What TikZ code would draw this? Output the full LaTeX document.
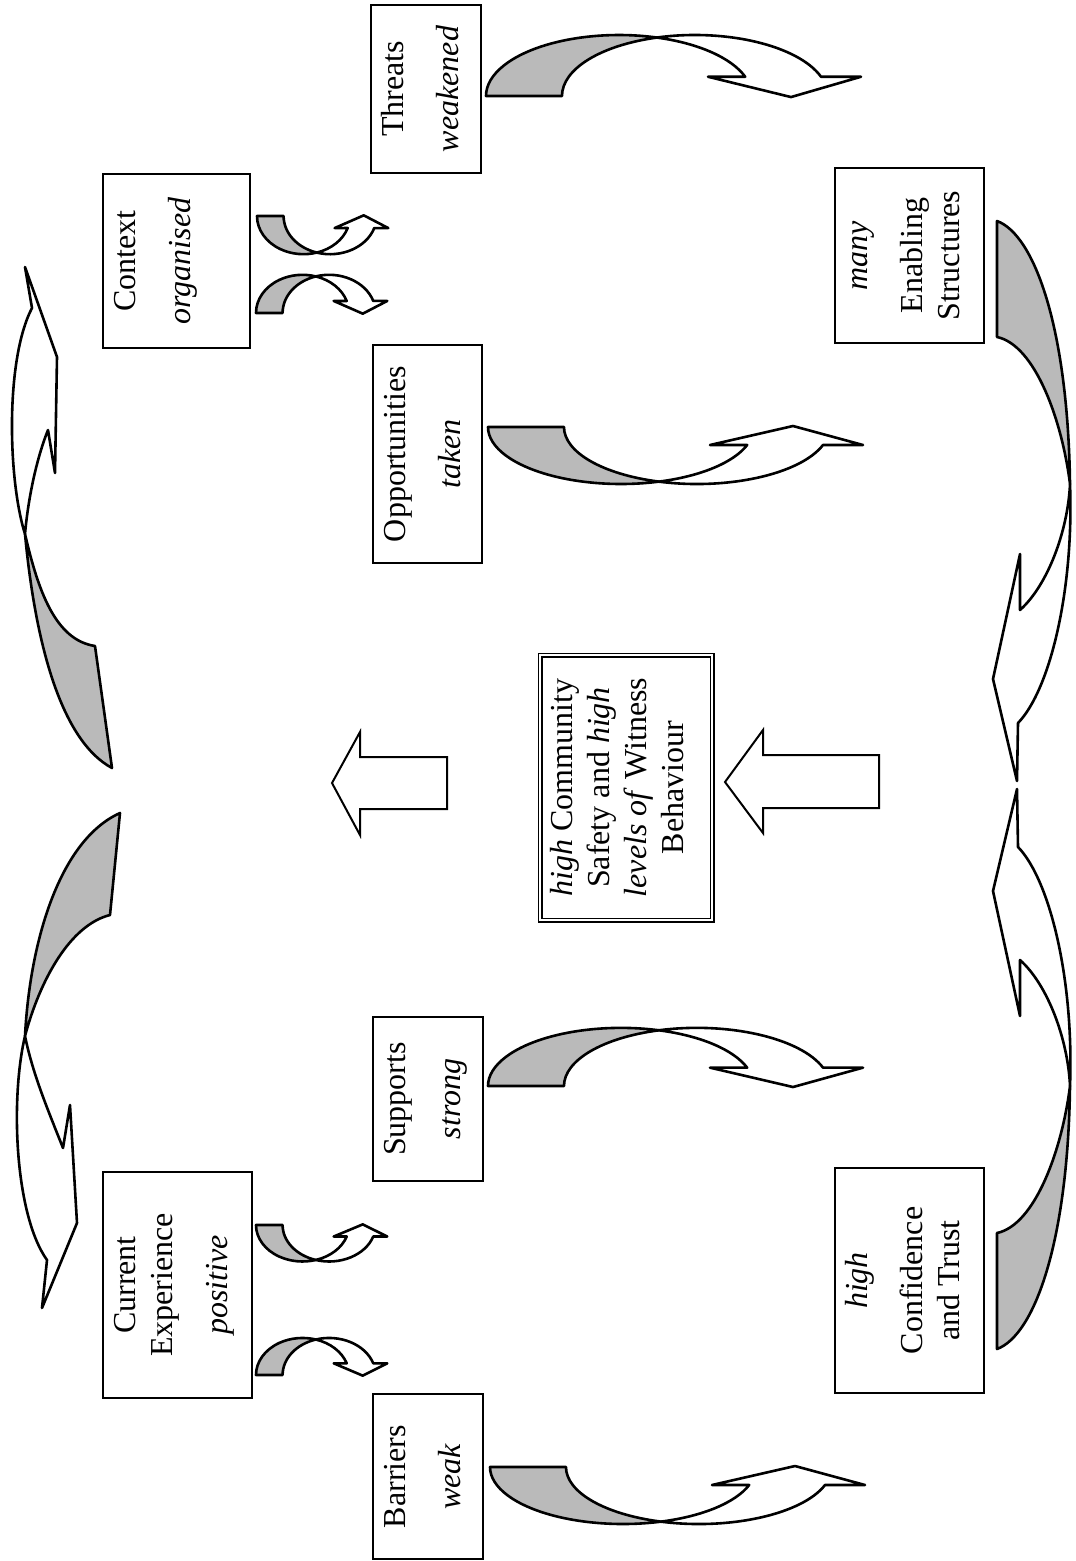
\documentclass[tikz,border=0pt]{standalone}
\usepackage{fontspec}
\setmainfont{Liberation Serif}
\begin{document}
\begin{tikzpicture}[x=1pt, y=-1pt]
    \tikzstyle{card}=[draw=black, line width=2pt, rotate=90, inner sep=0pt, font=\fontsize{32}{37}\selectfont]
    \tikzstyle{outline}=[draw=black, line width=2.6pt, line join=round]
    \tikzstyle{backside}=[outline, fill=black!27]
    \tikzstyle{blockarrow}=[draw=black, line width=2pt, fill=white]
    \tikzset{bentarrow/.pic={
        \path[backside] (0,0) arc[start angle=180, end angle=73.4, x radius=133, y radius=57]
            arc[start angle=106.6, end angle=180, x radius=133, y radius=57] -- cycle;
        \path[outline, fill=white] (171,54.6) arc[start angle=73.4, end angle=18.4, x radius=133, y radius=57]
            -- (222,18) -- (305,-1) -- (375,18) -- (335,18)
            arc[start angle=18.4, end angle=106.6, x radius=133, y radius=57] -- cycle;
    }}
    \useasboundingbox (0,0) rectangle (1076,1561);

    \node[card] (threats) at (426,89) {\parbox[c][110pt][t]{168pt}{\centering\vspace*{7pt}\strut Threats\\[18pt]\textit{weakened}}};
    \node[card] (context) at (176.5,261) {\parbox[c][147pt][t]{174pt}{\centering\vspace*{7pt}\strut Context\\[18pt]\textit{organised}}};
    \node[card] (opportunities) at (427.5,454) {\parbox[c][109pt][t]{218pt}{\centering\vspace*{7pt}\strut Opportunities\\[18pt]\textit{taken}}};
    \node[card] (enabling) at (909.5,255.5) {\parbox[c][149pt][t]{175pt}{\centering\vspace*{7pt}\strut\textit{many}\\[18pt]Enabling\\ Structures}};
    \node[card, double, line width=1.4pt, double distance=2.2pt] (safety) at (626,787.5) {\parbox[c][172pt][t]{265pt}{\centering\vspace*{7pt}\strut\textit{high} Community\\ Safety and \textit{high}\\ \textit{levels of} Witness\\ Behaviour}};
    \node[card] (supports) at (428,1099) {\parbox[c][110pt][t]{164pt}{\centering\vspace*{7pt}\strut Supports\\[18pt]\textit{strong}}};
    \node[card] (current) at (177.5,1285) {\parbox[c][149pt][t]{226pt}{\centering\vspace*{7pt}\strut Current\\ Experience\\[18pt]\textit{positive}}};
    \node[card] (confidence) at (909.5,1280.5) {\parbox[c][149pt][t]{225pt}{\centering\vspace*{7pt}\strut\textit{high}\\[18pt]Confidence\\ and Trust}};
    \node[card] (barriers) at (428,1476.5) {\parbox[c][110pt][t]{165pt}{\centering\vspace*{7pt}\strut Barriers\\[18pt]\textit{weak}}};

    \pic[yscale=-1.07] at (486,96) {bentarrow};
    \pic at (488,427) {bentarrow};
    \pic[yscale=-1.02] at (488,1086) {bentarrow};
    \pic at (490,1467) {bentarrow};
    \pic[xscale=0.35, yscale=0.67] at (257,216) {bentarrow};
    \pic[xscale=0.35, yscale=-0.67] at (256,313) {bentarrow};
    \pic[xscale=0.35, yscale=0.64] at (256,1225) {bentarrow};
    \pic[xscale=0.35, yscale=-0.65] at (256,1375) {bentarrow};

    \path[backside] (25,534) .. controls (38,590) and (55,640) .. (95,646) -- (112,768)
        .. controls (60,740) and (35,640) .. (25,534) -- cycle;
    \path[outline, fill=white] (25,534) .. controls (8,480) and (5,360) .. (32,308) -- (25,267) -- (57,357)
        -- (55,473) -- (48,430) .. controls (36,460) and (28,500) .. (25,534) -- cycle;
    \path[backside] (25,1036) .. controls (30,940) and (60,840) .. (120,813) -- (110,915)
        .. controls (70,925) and (40,980) .. (25,1036) -- cycle;
    \path[outline, fill=white] (25,1036) .. controls (10,1100) and (15,1215) .. (47,1260) -- (42,1308) -- (77,1223)
        -- (70,1105) -- (63,1148) .. controls (48,1110) and (33,1075) .. (25,1036) -- cycle;

    \path[backside] (997,221) .. controls (1035,235) and (1068,330) .. (1070,484)
        .. controls (1062,420) and (1035,345) .. (997,337) -- cycle;
    \path[outline, fill=white] (1070,484) .. controls (1074,590) and (1050,690) .. (1018,723) -- (1017,781) -- (993,679)
        -- (1020,554) -- (1020,610) .. controls (1048,585) and (1068,530) .. (1070,484) -- cycle;
    \begin{scope}[shift={(0,1570)}, yscale=-1]
        \path[backside] (997,221) .. controls (1035,235) and (1068,330) .. (1070,484)
            .. controls (1062,420) and (1035,345) .. (997,337) -- cycle;
        \path[outline, fill=white] (1070,484) .. controls (1074,590) and (1050,690) .. (1018,723) -- (1017,781) -- (993,679)
            -- (1020,554) -- (1020,610) .. controls (1048,585) and (1068,530) .. (1070,484) -- cycle;
    \end{scope}

    \path[blockarrow] (447,757) -- (360,757) -- (360,732) -- (332,783) -- (360,835) -- (360,809) -- (447,809) -- cycle;
    \path[blockarrow] (879,755) -- (763,755) -- (763,730) -- (725,782) -- (763,833) -- (763,808) -- (879,808) -- cycle;
\end{tikzpicture}
\end{document}
